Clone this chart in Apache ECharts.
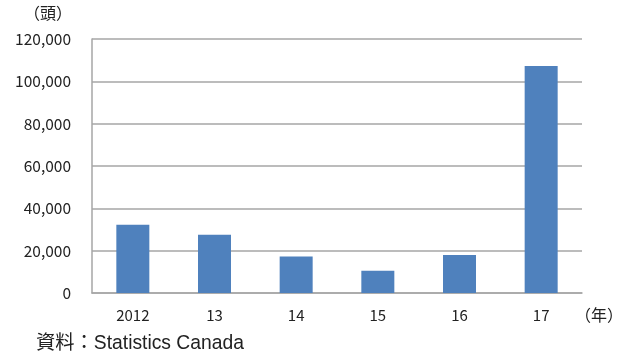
<!DOCTYPE html>
<html><head><meta charset="utf-8">
<script src="https://cdn.jsdelivr.net/npm/echarts@6/dist/echarts.min.js"></script>
<style>html,body{margin:0;padding:0;background:#fff}#c{width:624px;height:358px}</style>
</head><body><div id="c"></div>
<script>
const categories = ['2012', '13', '14', '15', '16', '17'];
const values = [32200, 27500, 17300, 10500, 17900, 107200];
const yTicks = [0, 20000, 40000, 60000, 80000, 100000, 120000];
const yUnit = '（頭）';
const xUnit = '（年）';
const source = '資料：Statistics Canada';

const font = '"Noto Sans CJK JP", "Liberation Sans", sans-serif';
const srcFont = '"Liberation Sans", "Noto Sans CJK JP", sans-serif';
const chart = echarts.init(document.getElementById('c'), null, {renderer: 'canvas'});
chart.setOption({
  animation: false,
  grid: {left: 92, right: 42, top: 39, bottom: 65},
  graphic: [
    {type: 'text', left: 24, top: 5, style: {text: yUnit, font: '16px ' + font, fill: '#222'}},
    {type: 'text', left: 575, top: 307, style: {text: xUnit, font: '16px ' + font, fill: '#222'}},
    {type: 'text', left: 36, top: 334, style: {text: source, font: '19.3px ' + srcFont, fill: '#222'}}
  ],
  xAxis: {
    type: 'category', data: categories,
    axisLine: {lineStyle: {color: '#a6a6a6', width: 1.5}},
    axisTick: {show: false},
    axisLabel: {color: '#222', fontSize: 15, fontFamily: font, margin: 15}
  },
  yAxis: {
    type: 'value', min: yTicks[0], max: yTicks[yTicks.length - 1], interval: yTicks[1] - yTicks[0],
    axisLine: {show: true, lineStyle: {color: '#a6a6a6', width: 1.5}},
    axisTick: {show: false},
    splitLine: {lineStyle: {color: '#a6a6a6', width: 1.5}},
    axisLabel: {color: '#222', fontSize: 15.5, fontFamily: font, margin: 21,
      formatter: v => v.toLocaleString('en-US')}
  },
  series: [{
    type: 'bar', data: values, barWidth: 33,
    itemStyle: {color: '#4f81bd'}
  }]
});
</script></body></html>
